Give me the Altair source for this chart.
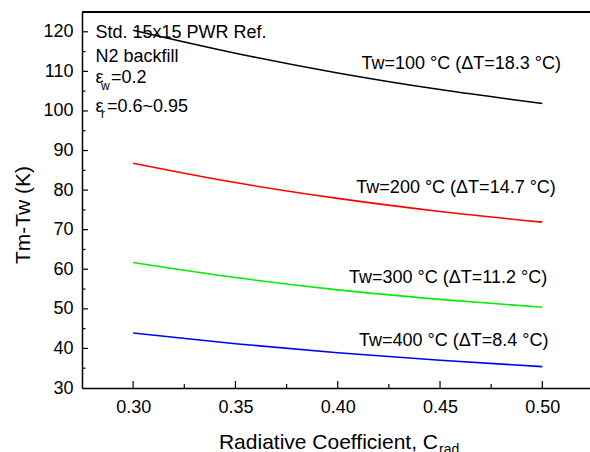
import altair as alt
import pandas as pd

# ---- data ----
crad = [0.30, 0.35, 0.40, 0.45, 0.50]
tw100 = [120.4, 114.6, 109.6, 105.4, 101.9]
tw200 = [86.8, 81.9, 77.9, 74.6, 71.9]
tw300 = [61.7, 57.9, 54.8, 52.4, 50.4]
tw400 = [43.9, 41.2, 38.9, 37.0, 35.4]
series_names = ["Tw=100", "Tw=200", "Tw=300", "Tw=400"]
series_colors = ["#000000", "#ff0000", "#00ee00", "#0000ff"]

curve_labels = ["Tw=100 °C (ΔT=18.3 °C)", "Tw=200 °C (ΔT=14.7 °C)",
                "Tw=300 °C (ΔT=11.2 °C)", "Tw=400 °C (ΔT=8.4 °C)"]
label_crad = [0.4116, 0.4091, 0.4055, 0.4104]
label_val = [110.5, 79.35, 56.45, 40.7]

x_major = [0.30, 0.35, 0.40, 0.45, 0.50]
x_minor = [0.325, 0.375, 0.425, 0.475]
y_major = [40, 50, 60, 70, 80, 90, 100, 110, 120]
y_minor = [35, 45, 55, 65, 75, 85, 95, 105, 115]
y_labels = [30, 40, 50, 60, 70, 80, 90, 100, 110, 120]

FONT = "Liberation Sans"
W, H = 508, 376
XDOM = [0.275, 0.5233]
YDOM = [30, 125]

rows = []
for name, vals in zip(series_names, [tw100, tw200, tw300, tw400]):
    for c, v in zip(crad, vals):
        rows.append({"series": name, "crad": c, "val": v})
df = pd.DataFrame(rows)

xs = alt.Scale(domain=XDOM, nice=False, zero=False)
ys = alt.Scale(domain=YDOM, nice=False, zero=False)
xaxis = alt.Axis(values=x_major, format=".2f", ticks=False, grid=False, title=None,
                 labelFontSize=18, labelFont=FONT, labelColor="black", labelPadding=10,
                 domainColor="black", domainWidth=1.5)
yaxis = alt.Axis(values=y_labels, ticks=False, grid=False, title=None,
                 labelFontSize=18, labelFont=FONT, labelColor="black", labelPadding=9,
                 domainColor="black", domainWidth=1.5)


def X(field):
    return alt.X(field, scale=xs, axis=xaxis, title=None)


def Y(field):
    return alt.Y(field, scale=ys, axis=yaxis, title=None)


lines = alt.Chart(df).mark_line(strokeWidth=1.6, interpolate="monotone").encode(
    x=X("crad:Q"),
    y=Y("val:Q"),
    color=alt.Color("series:N", scale=alt.Scale(domain=series_names, range=series_colors), legend=None),
    detail="series:N",
)

lab_df = pd.DataFrame({"t": curve_labels, "crad": label_crad, "val": label_val})
labels = alt.Chart(lab_df).mark_text(align="left", baseline="alphabetic", fontSize=18, font=FONT, color="black").encode(
    x=X("crad:Q"), y=Y("val:Q"), text="t:N")

# inward ticks
xmaj = alt.Chart(pd.DataFrame({"crad": x_major})).mark_rule(color="black", strokeWidth=1.2).encode(
    x=X("crad:Q"), y=alt.value(H), y2=alt.value(H - 7))
xmin = alt.Chart(pd.DataFrame({"crad": x_minor})).mark_rule(color="black", strokeWidth=1.2).encode(
    x=X("crad:Q"), y=alt.value(H), y2=alt.value(H - 4))
ymaj = alt.Chart(pd.DataFrame({"val": y_major})).mark_rule(color="black", strokeWidth=1.2).encode(
    y=Y("val:Q"), x=alt.value(0), x2=alt.value(6))
ymin = alt.Chart(pd.DataFrame({"val": y_minor})).mark_rule(color="black", strokeWidth=1.2).encode(
    y=Y("val:Q"), x=alt.value(0), x2=alt.value(3.5))
top = alt.Chart(pd.DataFrame({"a": [0]})).mark_rule(color="black", strokeWidth=1.8).encode(
    x=alt.value(0), x2=alt.value(W), y=alt.value(0))


# pixel-placed annotation texts
def txt(text, px, py, size=18, angle=0, align="left", baseline="alphabetic"):
    kw = dict(align=align, baseline=baseline, fontSize=size, font=FONT, color="black")
    if angle:
        kw["angle"] = angle
    return alt.Chart(pd.DataFrame({"t": [text]})).mark_text(**kw).encode(
        x=alt.value(px), y=alt.value(py), text="t:N")


notes = [
    txt("Std. 15x15 PWR Ref.", 13.4, 25.7),
    txt("N2 backfill", 13.4, 50.3),
    txt("ε", 13.4, 71.3),
    txt("w", 19.0, 77.5, size=12),
    txt("=0.2", 29.0, 71.3),
    txt("ε", 13.4, 99.7),
    txt("r", 19.0, 106.0, size=12),
    txt("=0.6~0.95", 25.0, 99.7),
    txt("Radiative Coefficient, C", 356, 437, size=21, align="right"),
    txt("rad", 357, 442, size=14),
    txt("Tm-Tw (K)", -58, 203, size=21, angle=270, align="center", baseline="middle"),
]

chart = alt.layer(lines, labels, xmaj, xmin, ymaj, ymin, top, *notes).properties(
    width=W, height=H,
    autosize=alt.AutoSizeParams(type="none"),
    padding={"left": 82, "top": 12, "right": 0, "bottom": 64},
).configure_view(stroke=None).configure(background="white")

chart.save("out.html", embed_options={"renderer": "svg", "actions": False})
